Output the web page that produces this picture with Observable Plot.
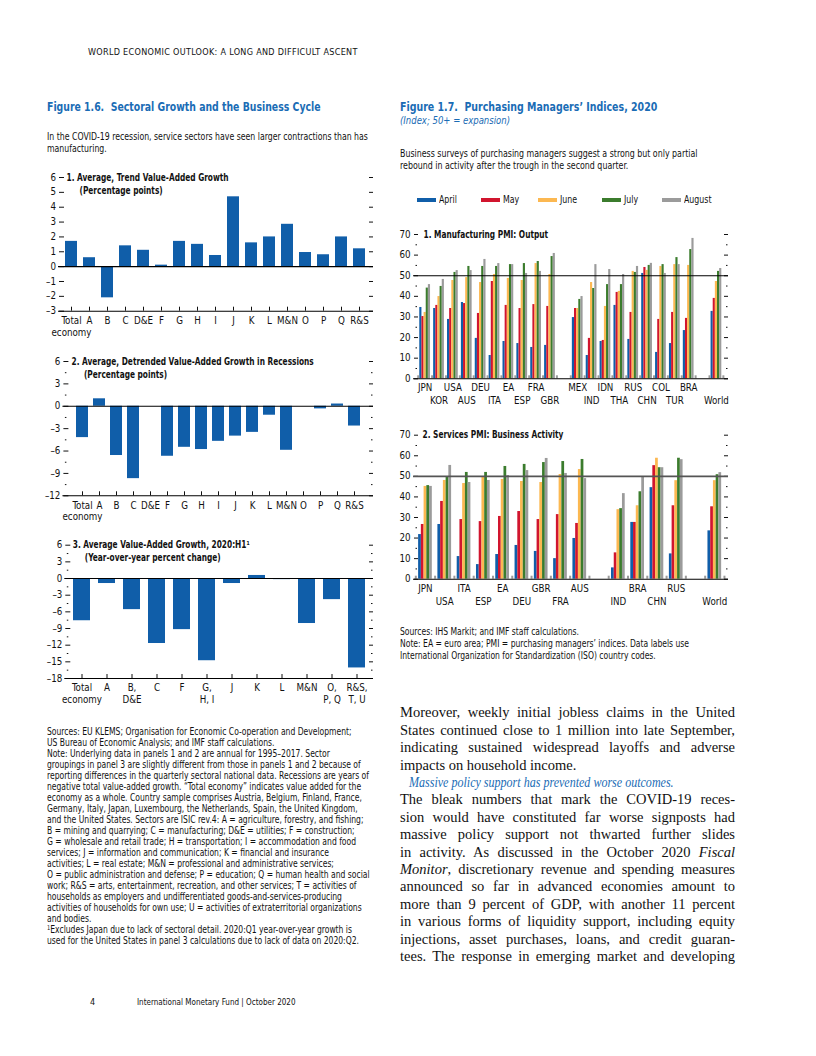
<!DOCTYPE html>
<html><head><meta charset="utf-8">
<script src="https://cdn.jsdelivr.net/npm/d3@7"></script>
<script src="https://cdn.jsdelivr.net/npm/@observablehq/plot@0.6"></script>
<style>
html,body{margin:0;padding:0;background:#fff;}
#page{position:relative;width:816px;height:1056px;overflow:hidden;background:#fff;color:#111;
 font-family:"Liberation Sans Narrow","Arial Narrow","DejaVu Sans Condensed",sans-serif;}
.a{position:absolute;white-space:nowrap;transform-origin:0 0;}
.hdr{font-size:9px;line-height:12px;letter-spacing:0.3px;}
.ftitle{font-weight:bold;font-size:12.5px;line-height:15px;color:#1a6cb5;}
.fsub{font-style:italic;font-size:11px;line-height:13px;color:#1a6cb5;}
.sub{font-size:9.7px;line-height:12px;}
.note{font-size:9.7px;line-height:11px;}
.rnote{font-size:9.7px;line-height:12px;}
.leg{font-size:9.7px;line-height:12px;}
.sw{position:absolute;width:19px;height:4px;}
.body{font-family:"Liberation Serif","Times New Roman",serif;font-size:14.5px;line-height:17.4px;width:335px;}
.just{text-align:justify;text-align-last:justify;white-space:normal;}
.foot{font-size:9px;line-height:12px;}
.sup{font-size:6.5px;vertical-align:3px;line-height:0;}
</style></head><body><div id="page"></div>
<script>
// ---------------- DATA ----------------
// Figure 1.6, panels 1-2: sectors
const sectors12 = ["Total\neconomy","A","B","C","D&E","F","G","H","I","J","K","L","M&N","O","P","Q","R&S"];
const trendGrowth = [1.7,0.6,-2.1,1.4,1.1,0.1,1.7,1.5,0.75,4.7,1.6,2.0,2.85,0.95,0.8,2.0,1.2];
const recessionGrowth = [-4.2,1.0,-6.6,-9.7,0,-6.7,-5.5,-5.8,-4.7,-4.0,-3.5,-1.2,-5.9,0,-0.35,0.3,-2.65];
// Figure 1.6, panel 3
const sectors3 = ["Total\neconomy","A","B,\nD&E","C","F","G,\nH, I","J","K","L","M&N","O,\nP, Q","R&S,\nT, U"];
const h1Growth = [-7.6,-0.9,-5.6,-11.7,-9.2,-14.8,-0.9,0.55,-0.2,-8.1,-3.8,-16.1];

// Figure 1.7
const months = ["April","May","June","July","August"];
const monthColors = ["#105ea9","#d1152e","#fcb851","#3b7c2d","#9b9b9b"];

const mfgAdvanced = ["JPN","KOR","USA","AUS","DEU","ITA","EA","ESP","FRA","GBR"];
const mfgEmerging = ["MEX","IND","IDN","THA","RUS","CHN","COL","TUR","BRA"];
const mfgWorld = ["World"];
const mfgApril  = [34.6,34.1,28.8,37.0,19.6,11.3,18.1,17.1,15.2,16.2, 29.7,11.3,18.1,35.6,19.1,51.1,12.8,17.1,23.4, 32.7];
const mfgMay    = [30.2,35.6,34.1,36.5,31.7,47.2,35.6,34.1,36.0,35.1, 34.1,19.6,18.6,41.9,32.2,54.0,28.8,32.2,29.3, 39.0];
const mfgJune   = [32.2,39.9,47.7,49.1,46.7,50.6,48.7,47.7,55.9,50.6, 34.1,46.7,35.1,42.4,52.1,52.6,54.5,55.4,55.0, 47.2];
const mfgJuly   = [44.0,44.8,51.6,54.5,54.5,54.5,55.4,55.9,56.9,59.3, 38.5,43.8,45.7,45.7,51.6,55.0,55.4,58.8,62.7, 52.1];
const mfgAugust = [45.7,48.2,52.5,52.5,57.9,55.9,55.4,51.1,52.1,60.8, 39.9,55.4,53.0,50.6,54.5,56.0,51.1,55.4,68.1, 53.5];

const svcAdvanced = ["JPN","USA","ITA","ESP","EA","DEU","GBR","FRA","AUS"];
const svcEmerging = ["IND","BRA","CHN","RUS"];
const svcWorld = ["World"];
const svcApril  = [21.7,26.6,11.0,7.1,12.0,16.4,13.5,10.0,19.8, 5.5,27.6,44.5,12.3, 23.5];
const svcMay    = [26.6,37.8,29.0,28.0,30.5,32.9,29.0,31.4,27.1, 12.8,27.6,55.2,35.7, 35.2];
const svcJune   = [45.1,48.0,46.5,49.9,48.5,47.5,47.0,50.9,53.3, 33.8,35.7,58.8,47.9, 47.9];
const svcJuly   = [45.5,49.9,51.9,51.9,54.8,55.8,56.7,57.2,58.2, 34.3,42.5,54.2,58.8, 50.8];
const svcAugust = [45.1,55.3,47.0,48.0,50.4,52.8,58.7,51.4,48.9, 41.6,49.5,54.2,58.1, 51.8];

// ---------------- HELPERS ----------------
const FONT = '"Liberation Sans Narrow","Arial Narrow","DejaVu Sans Condensed",sans-serif';
const BAR_BLUE = "#105ea9";
const TITLE_SQUEEZE = 0.85;
const page = document.getElementById("page");
function addText(html, cls, left, top, sx, extra) {
  const d = document.createElement("div");
  d.className = "a " + cls;
  d.style.left = left + "px"; d.style.top = top + "px";
  if (sx) d.style.transform = "scaleX(" + sx + ")";
  if (extra) Object.assign(d.style, extra);
  d.innerHTML = html; page.appendChild(d); return d;
}
function place(node, left, top, titles) {
  node.style.position = "absolute"; node.style.left = left + "px"; node.style.top = top + "px";
  page.appendChild(node);
  // squeeze bold panel titles to the narrow width of the original face
  d3.select(node).selectAll("text").each(function () {
    if (titles.includes(this.textContent)) {
      const L = this.getComputedTextLength();
      this.setAttribute("textLength", L * TITLE_SQUEEZE);
      this.setAttribute("lengthAdjust", "spacingAndGlyphs");
    }
  });
}
const fmtNeg = d => d < 0 ? "–" + Math.abs(d) : String(d);
const plotStyle = {fontFamily: FONT, fontSize: "9.7px", color: "#111", background: "transparent", overflow: "visible"};

function sectorPanel(o) {
  const W = 340, innerW = W - o.ml - o.mr, innerH = o.height - o.mt - o.mb;
  const majors = d3.range(o.yMin, o.yMax + 1e-9, o.major);
  const minors = o.minor ? d3.range(o.yMin, o.yMax + 1e-9, o.minor).filter(v => !majors.some(m => Math.abs(m - v) < 1e-9)) : [];
  const data = o.cats.map((c, i) => ({c, v: o.values[i]}));
  return Plot.plot({
    width: W, height: o.height, marginTop: o.mt, marginBottom: o.mb, marginLeft: o.ml, marginRight: o.mr,
    style: plotStyle,
    x: {type: "band", domain: o.cats, paddingInner: o.pi, paddingOuter: o.po, axis: null},
    y: {domain: [o.yMin, o.yMax], label: null},
    marks: [
      Plot.barY(data, {x: "c", y: "v", fill: BAR_BLUE}),
      Plot.tickY(majors, {y: d => d, insetLeft: 1, insetRight: innerW - 6, stroke: "#111"}),
      Plot.tickY(majors, {y: d => d, insetLeft: innerW - 4, stroke: "#111"}),
      Plot.tickY(minors, {y: d => d, insetLeft: 2.5, insetRight: innerW - 4, stroke: "#111"}),
      Plot.tickY(minors, {y: d => d, insetLeft: innerW - 2, insetRight: 0.5, stroke: "#111"}),
      Plot.tickX(o.cats, {x: d => d, insetTop: innerH - 4, stroke: "#111"}),
      Plot.ruleY([0], {stroke: "#000", strokeWidth: 1.1}),
      Plot.ruleY([o.yMin], {stroke: "#000", strokeWidth: 1.1}),
      Plot.axisY({ticks: majors, tickSize: 0, tickPadding: 2.5, tickFormat: fmtNeg, label: null}),
      Plot.text(o.cats, {x: d => d, text: d => d, frameAnchor: "bottom", dy: o.ldy, lineAnchor: "top", lineHeight: 1.2}),
      Plot.text([o.title], {text: d => d, frameAnchor: "top-left", dx: o.tdx, textAnchor: "start", lineAnchor: "middle", fontWeight: "bold"}),
      Plot.text([o.subtitle], {text: d => d, frameAnchor: "top-left", dx: o.sdx, dy: o.sdy, textAnchor: "start", lineAnchor: "middle", fontWeight: "bold"})
    ]
  });
}

function pmiPanel(o) {
  const W = 340, innerW = W - o.ml - o.mr, innerH = o.height - o.mt - o.mb;
  const countries = o.groups.flat();
  const slotOf = []; let s = 0;
  o.groups.forEach((g, gi) => { if (gi > 0) s++; g.forEach(() => { slotOf.push(s); s++; }); });
  const bw = o.barFrac;
  const data = [];
  countries.forEach((c, k) => months.forEach((m, mi) => {
    const x1 = slotOf[k] - 2.5 * bw + mi * bw;
    data.push({c, m, v: o.series[mi][k], x1, x2: x1 + bw});
  }));
  const labels = countries.map((c, k) => ({c, s: slotOf[k], row: k % 2}));
  const bounds = Array.from(new Set(slotOf.flatMap(v => [v - 0.5, v + 0.5])));
  const majors = d3.range(0, 71, 10), minors = d3.range(5, 70, 10);
  return Plot.plot({
    width: W, height: o.height, marginTop: o.mt, marginBottom: o.mb, marginLeft: o.ml, marginRight: o.mr,
    style: plotStyle,
    x: {domain: o.xDomain, axis: null},
    y: {domain: [0, 70], label: null},
    color: {domain: months, range: monthColors},
    marks: [
      Plot.rect(data, {x1: "x1", x2: "x2", y1: 0, y2: "v", fill: "m"}),
      Plot.tickX(bounds, {x: d => d, insetTop: innerH - 3, stroke: "#9b9b9b", strokeWidth: 2}),
      Plot.tickY(majors, {y: d => d, insetLeft: 1, insetRight: innerW - 5, stroke: "#111"}),
      Plot.tickY(majors, {y: d => d, insetLeft: innerW - 4, stroke: "#111"}),
      Plot.tickY(minors, {y: d => d, insetLeft: 2.5, insetRight: innerW - 4, stroke: "#111"}),
      Plot.tickY(minors, {y: d => d, insetLeft: innerW - 2, insetRight: 0.5, stroke: "#111"}),
      Plot.ruleY([50], {stroke: o.line50, strokeWidth: o.line50w}),
      Plot.ruleY([0], {stroke: "#000", strokeWidth: 1.1}),
      Plot.axisY({ticks: majors, tickSize: 0, tickPadding: 3, label: null}),
      Plot.text(labels.filter(d => d.row === 0), {x: "s", text: "c", frameAnchor: "bottom", dy: o.r1, lineAnchor: "middle"}),
      Plot.text(labels.filter(d => d.row === 1), {x: "s", text: "c", frameAnchor: "bottom", dy: o.r2, lineAnchor: "middle"}),
      Plot.text([o.title], {text: d => d, frameAnchor: "top-left", dx: o.tdx, textAnchor: "start", lineAnchor: "middle", fontWeight: "bold"})
    ]
  });
}

// ---------------- PAGE TEXT ----------------
addText("WORLD ECONOMIC OUTLOOK: A LONG AND DIFFICULT ASCENT", "hdr", 88, 46);
addText("Figure 1.6.&nbsp; Sectoral Growth and the Business Cycle", "ftitle", 47, 98.5, 0.83);
addText("Figure 1.7.&nbsp; Purchasing Managers’ Indices, 2020", "ftitle", 400, 98.5, 0.84);
addText("(Index; 50+ = expansion)", "fsub", 400, 113.5, 0.86);
addText("In the COVID-19 recession, service sectors have seen larger contractions than has<br>manufacturing.", "sub", 47, 131, 0.894);
addText("Business surveys of purchasing managers suggest a strong but only partial<br>rebound in activity after the trough in the second quarter.", "sub", 400, 148, 0.905);

// legend
const legendLefts = [417, 481, 538, 602, 662];
months.forEach((m, i) => {
  const sw = document.createElement("div");
  sw.className = "sw"; sw.style.background = monthColors[i];
  sw.style.left = legendLefts[i] + "px"; sw.style.top = "198px";
  page.appendChild(sw);
  addText(m, "leg", legendLefts[i] + 22, 194, 0.9);
});

// ---------------- CHARTS ----------------
place(sectorPanel({cats: sectors12, values: trendGrowth, yMin: -3, yMax: 6, major: 1, minor: 0,
  height: 175, mt: 9, mb: 32.3, ml: 18, mr: 7, pi: 0.33, po: 0.4, ldy: 5,
  title: "1. Average, Trend Value-Added Growth", subtitle: "(Percentage points)", tdx: 8, sdx: 21, sdy: 13}), 40, 168,
  ["1. Average, Trend Value-Added Growth", "(Percentage points)"]);

place(sectorPanel({cats: sectors12, values: recessionGrowth, yMin: -12, yMax: 6, major: 3, minor: 1.5,
  height: 175, mt: 9, mb: 31.7, ml: 22.4, mr: 7, pi: 0.32, po: 0.4, ldy: 4.5,
  title: "2. Average, Detrended Value-Added Growth in Recessions", subtitle: "(Percentage points)", tdx: 8.6, sdx: 21, sdy: 13}), 40, 352,
  ["2. Average, Detrended Value-Added Growth in Recessions", "(Percentage points)"]);

place(sectorPanel({cats: sectors3, values: h1Growth, yMin: -18, yMax: 6, major: 3, minor: 1.5,
  height: 175, mt: 8.7, mb: 33, ml: 24.3, mr: 7, pi: 0.31, po: 0.29, ldy: 4.5,
  title: "3. Average Value-Added Growth, 2020:H1¹", subtitle: "(Year-over-year percent change)", tdx: 8, sdx: 20, sdy: 12.5}), 40, 536,
  ["3. Average Value-Added Growth, 2020:H1¹", "(Year-over-year percent change)"]);

place(pmiPanel({groups: [mfgAdvanced, mfgEmerging, mfgWorld], series: [mfgApril, mfgMay, mfgJune, mfgJuly, mfgAugust],
  height: 190, mt: 9, mb: 36.7, ml: 18, mr: 7, xDomain: [-0.84, 21.87], barFrac: 0.155,
  line50: "#000", line50w: 1.2, r1: 9, r2: 22, title: "1. Manufacturing PMI: Output", tdx: 10}), 395, 225,
  ["1. Manufacturing PMI: Output"]);

place(pmiPanel({groups: [svcAdvanced, svcEmerging, svcWorld], series: [svcApril, svcMay, svcJune, svcJuly, svcAugust],
  height: 190, mt: 9.7, mb: 36.3, ml: 18, mr: 7, xDomain: [-0.62, 15.71], barFrac: 0.142,
  line50: "#555", line50w: 1.6, r1: 9.6, r2: 23, title: "2. Services PMI: Business Activity", tdx: 9}), 395, 425,
  ["2. Services PMI: Business Activity"]);

// ---------------- NOTES ----------------
const leftNotes = [
  "Sources: EU KLEMS; Organisation for Economic Co-operation and Development;",
  "US Bureau of Economic Analysis; and IMF staff calculations.",
  "Note: Underlying data in panels 1 and 2 are annual for 1995–2017. Sector",
  "groupings in panel 3 are slightly different from those in panels 1 and 2 because of",
  "reporting differences in the quarterly sectoral national data. Recessions are years of",
  "negative total value-added growth. “Total economy” indicates value added for the",
  "economy as a whole. Country sample comprises Austria, Belgium, Finland, France,",
  "Germany, Italy, Japan, Luxembourg, the Netherlands, Spain, the United Kingdom,",
  "and the United States. Sectors are ISIC rev.4: A = agriculture, forestry, and fishing;",
  "B = mining and quarrying; C = manufacturing; D&amp;E = utilities; F = construction;",
  "G = wholesale and retail trade; H = transportation; I = accommodation and food",
  "services; J = information and communication; K = financial and insurance",
  "activities; L = real estate; M&amp;N = professional and administrative services;",
  "O = public administration and defense; P = education; Q = human health and social",
  "work; R&amp;S = arts, entertainment, recreation, and other services; T = activities of",
  "households as employers and undifferentiated goods-and-services-producing",
  "activities of households for own use; U = activities of extraterritorial organizations",
  "and bodies.",
  "<span class='sup'>1</span>Excludes Japan due to lack of sectoral detail. 2020:Q1 year-over-year growth is",
  "used for the United States in panel 3 calculations due to lack of data on 2020:Q2."
];
leftNotes.forEach((t, i) => addText(t, "note", 47, 725.5 + i * 11, 0.875));

const rightNotes = [
  "Sources: IHS Markit; and IMF staff calculations.",
  "Note: EA = euro area; PMI = purchasing managers’ indices. Data labels use",
  "International Organization for Standardization (ISO) country codes."
];
rightNotes.forEach((t, i) => addText(t, "rnote", 400, 626 + i * 12, 0.876));

// ---------------- BODY TEXT ----------------
const bodyLines = [
  ["Moreover, weekly initial jobless claims in the United", "j"],
  ["States continued close to 1 million into late September,", "j"],
  ["indicating sustained widespread layoffs and adverse", "j"],
  ["impacts on household income.", ""],
  ["Massive policy support has prevented worse outcomes.", "h"],
  ["The bleak numbers that mark the COVID-19 reces-", "j"],
  ["sion would have constituted far worse signposts had", "j"],
  ["massive policy support not thwarted further slides", "j"],
  ["in activity. As discussed in the October 2020 <i>Fiscal</i>", "j"],
  ["<i>Monitor</i>, discretionary revenue and spending measures", "j"],
  ["announced so far in advanced economies amount to", "j"],
  ["more than 9 percent of GDP, with another 11 percent", "j"],
  ["in various forms of liquidity support, including equity", "j"],
  ["injections, asset purchases, loans, and credit guaran-", "j"],
  ["tees. The response in emerging market and developing", "j"]
];
bodyLines.forEach(([t, k], i) => {
  const top = 704.3 + i * 17.4;
  if (k === "h") addText(t, "body", 409, top, 0.83, {fontStyle: "italic", color: "#1a6cb5", width: "auto"});
  else addText(t, "body" + (k === "j" ? " just" : ""), 400, top);
});

// ---------------- FOOTER ----------------
addText("4", "foot", 90, 996);
addText("International Monetary Fund | October 2020", "foot", 137, 996, 0.89);
</script></body></html>
